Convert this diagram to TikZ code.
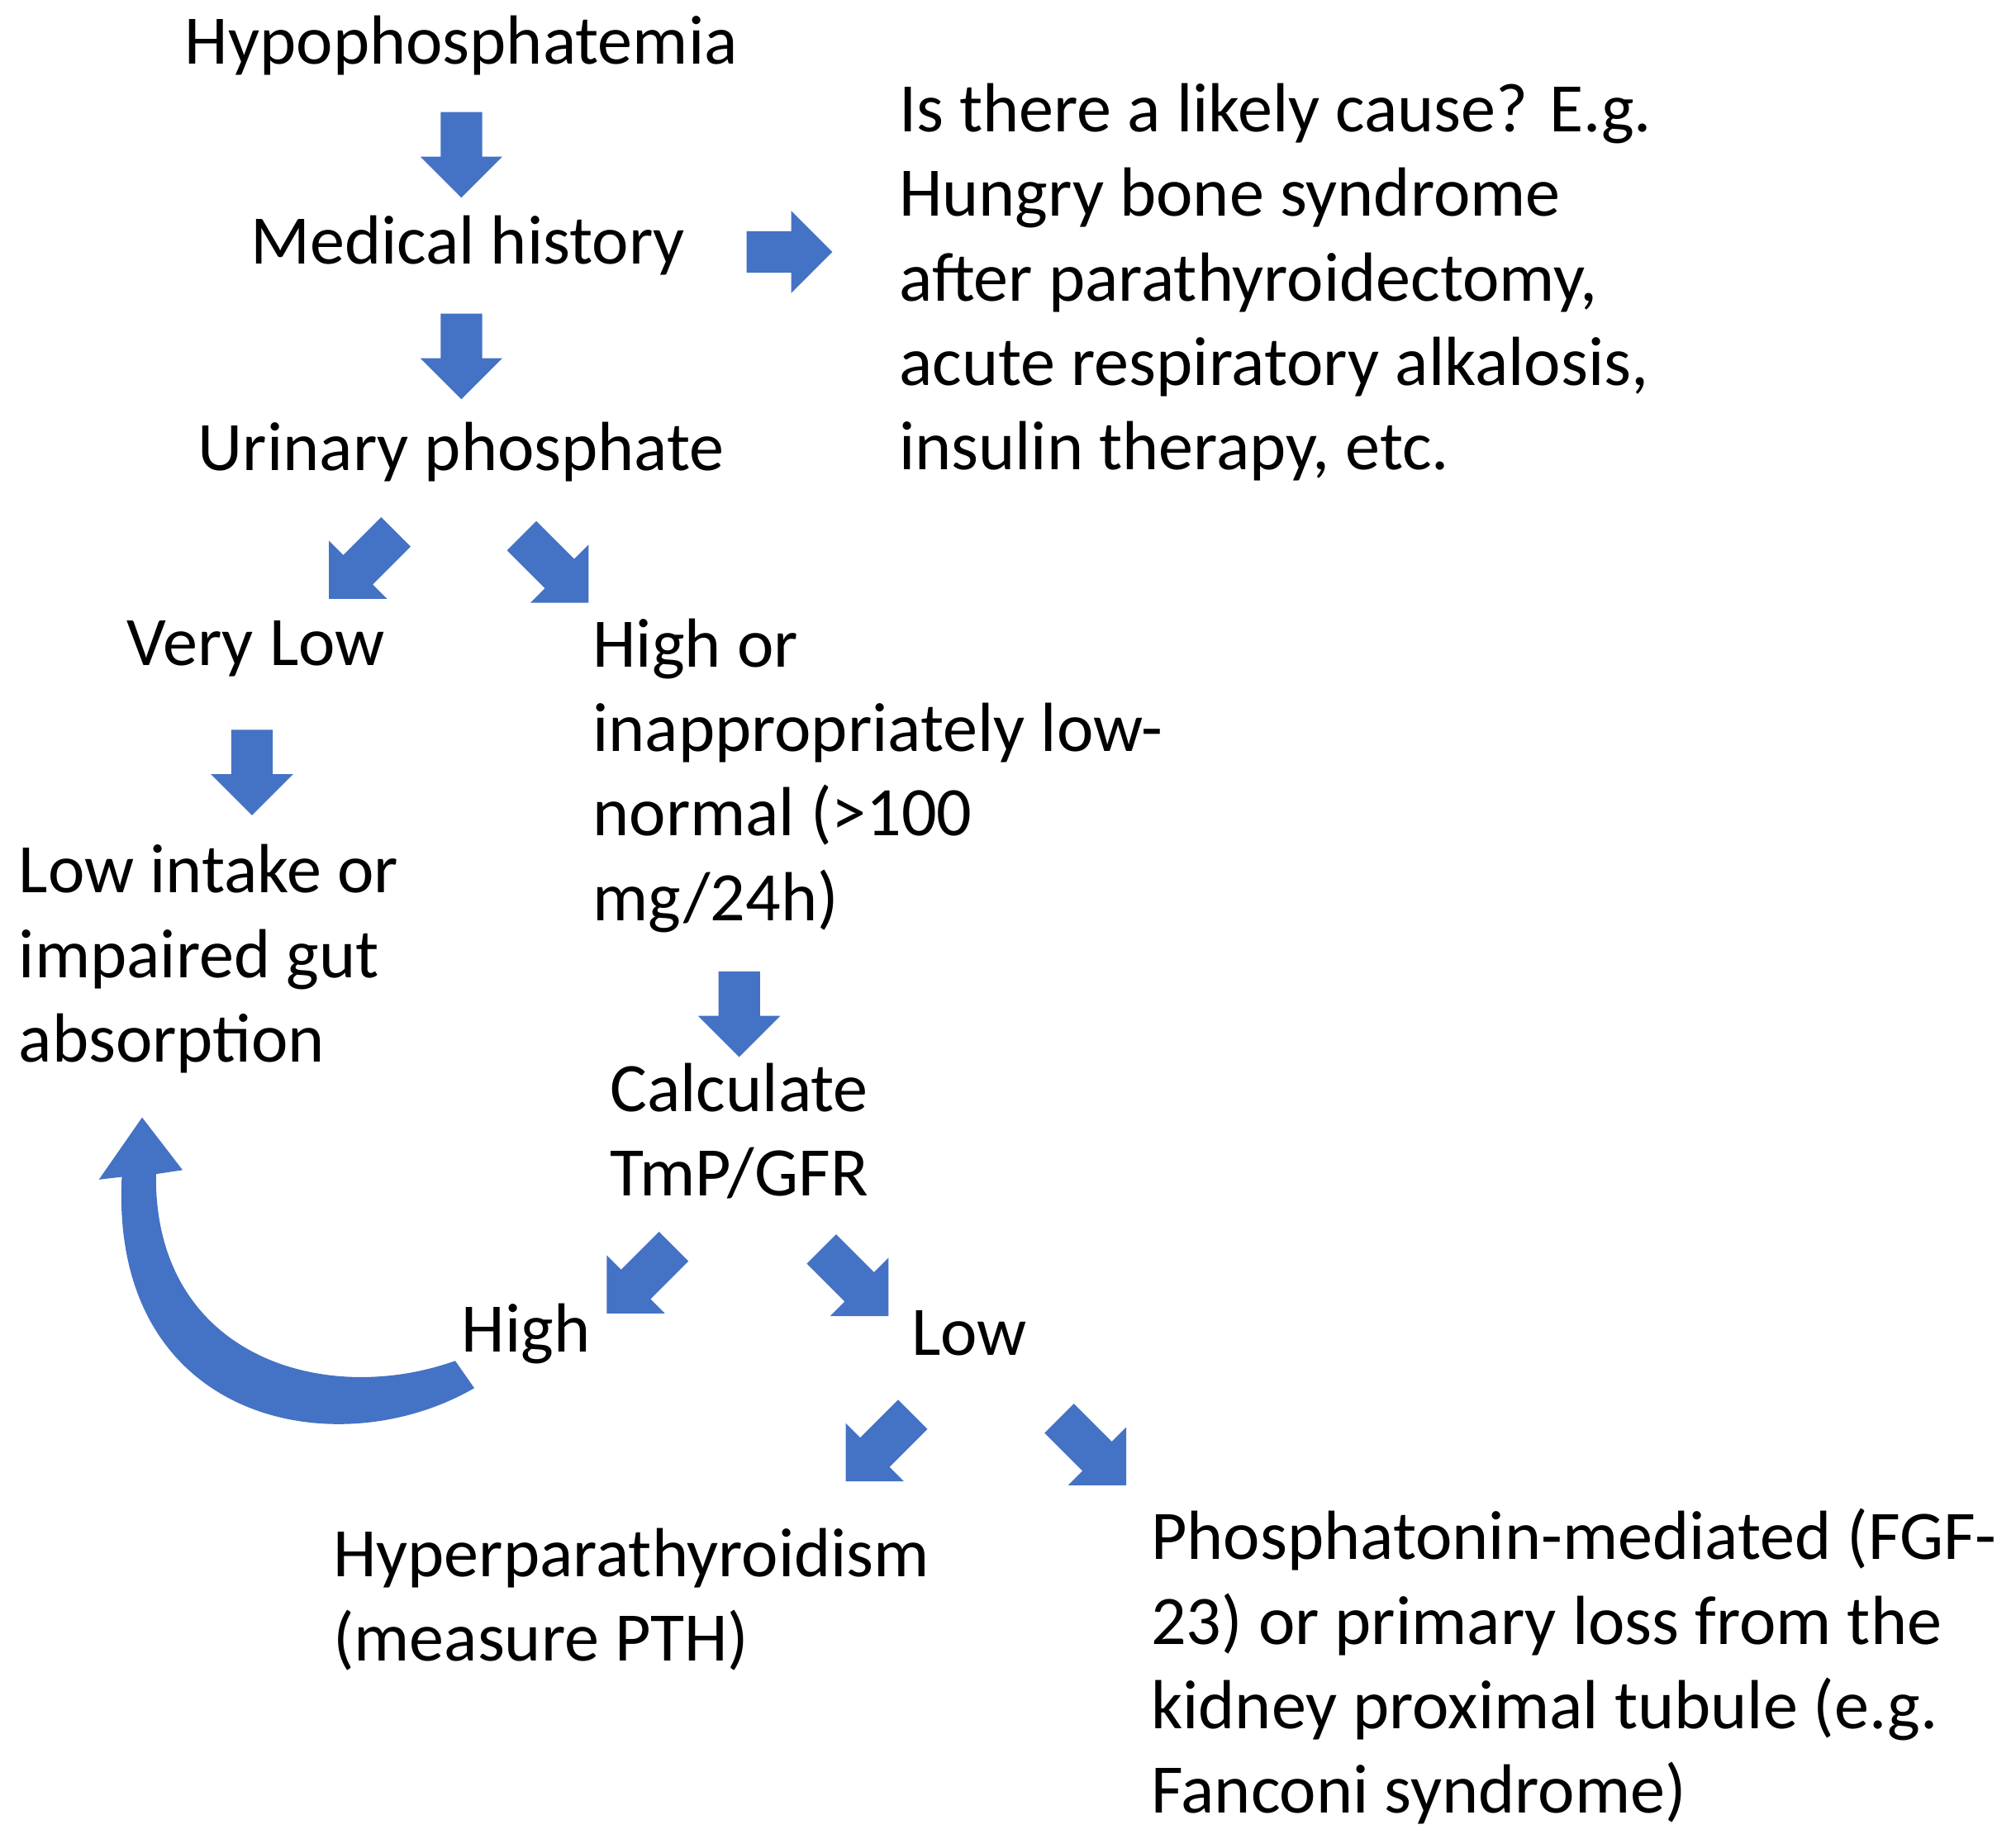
\documentclass[tikz,border=0pt]{standalone}
\usepackage{fontspec}
\setmainfont{Carlito}
\usetikzlibrary{shapes.arrows}
\definecolor{ab}{HTML}{4472C4}
\begin{document}
\begin{tikzpicture}[x=0.01cm,y=-0.01cm,
  every node/.style={font=\fontsize{15.3}{18.6}\selectfont,inner sep=0pt},
  lt/.style={anchor=west,align=left},
  ba/.style={single arrow,draw=ab,fill=ab,minimum height=0.65cm,single arrow head extend=0.15cm,inner sep=0.15cm,line width=0.3pt},
  bd/.style={ba,minimum height=0.72cm}]
\useasboundingbox (0,0) rectangle (1560,1419);
\node (hyp) at (357,35) {Hypophosphatemia};
\node[ba,rotate=-90] (a1) at (357,112) {};
\node (med) at (362,190) {Medical history};
\node[ba] (a2) at (603,195) {};
\node[lt,anchor=north west] (cause) at (695,64) {Is there a likely cause? E.g.\\Hungry bone syndrome\\after parathyroidectomy,\\acute respiratory alkalosis,\\insulin therapy, etc.};
\node[ba,rotate=-90] (a3) at (357,268) {};
\node (uri) at (357,350) {Urinary phosphate};
\node[bd,rotate=-135] (a4) at (286,432) {};
\node[bd,rotate=-45] (a5) at (424,435) {};
\node (vl) at (198,502) {Very Low};
\node[lt,anchor=north west] (hi) at (458,478) {High or\\inappropriately low-\\normal (>100\\mg/24h)};
\node[ba,rotate=-90] (a6) at (195,590) {};
\node[lt,anchor=north west] (li) at (14,653) {Low intake or\\impaired gut\\absorption};
\node[ba,rotate=-90] (a7) at (572,777) {};
\node[align=center,anchor=north] (calc) at (572,822) {Calculate\\TmP/GFR};
\node[bd,rotate=-135] (a8) at (501,985) {};
\node[bd,rotate=-45] (a9) at (656,987) {};
\node (high) at (407,1032) {High};
\node (low) at (750,1032) {Low};
\node[bd,rotate=-135] (a10) at (686,1115) {};
\node[bd,rotate=-45] (a11) at (840,1118) {};
\node[lt,anchor=north west] (hpt) at (257,1182) {Hyperparathyroidism\\(measure PTH)};
\node[lt,anchor=north west] (pho) at (890,1167) {Phosphatonin-mediated (FGF-\\23) or primary loss from the\\kidney proximal tubule (e.g.\\Fanconi syndrome)};
\fill[ab,draw=ab] (366,1074) .. controls (260,1135) and (85,1100) .. (95,910)
  -- (78,912) -- (110,866) -- (140,905) -- (120,908)
  .. controls (118,1050) and (250,1090) .. (352,1054) -- cycle;
\end{tikzpicture}
\end{document}
